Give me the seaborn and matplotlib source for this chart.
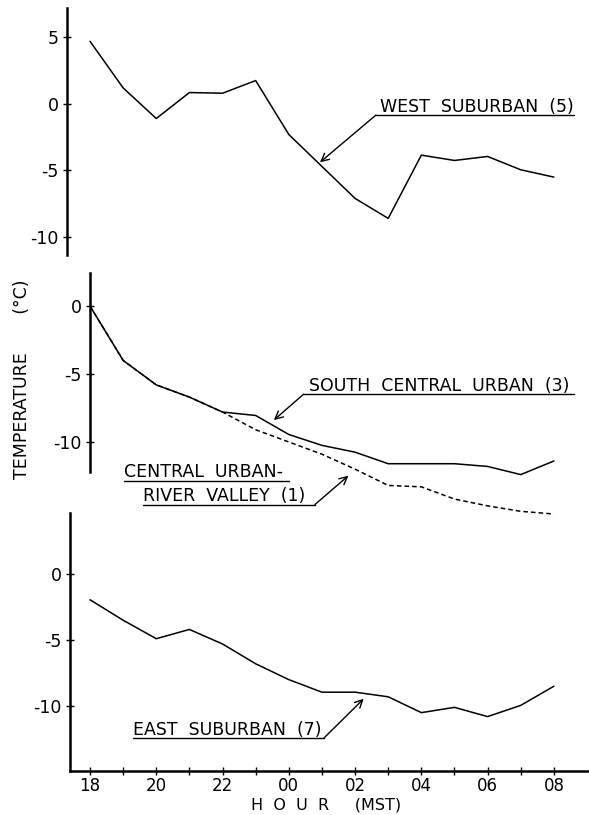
import numpy as np
import pandas as pd
import matplotlib
matplotlib.use('Agg')
import matplotlib.pyplot as plt
import seaborn as sns

# hour of day (MST), one point per hour
hours = ['18', '19', '20', '21', '22', '23', '00', '01', '02', '03', '04', '05', '06', '07', '08']
hour_idx = list(range(len(hours)))

# temperatures (deg C)
west_suburban = [4.7, 1.2, -1.1, 0.85, 0.8, 1.75, -2.3, -4.7, -7.1, -8.6, -3.85, -4.25, -3.95, -4.95, -5.5]
south_central_urban = [0.0, -4.0, -5.8, -6.7, -7.8, -8.05, -9.45, -10.25, -10.75, -11.6, -11.6, -11.6, -11.8, -12.4, -11.4]
central_river_valley = [0.0, -4.0, -5.8, -6.7, -7.8, -9.1, -10.0, -10.9, -12.0, -13.2, -13.3, -14.2, -14.7, -15.1, -15.3]
east_suburban = [-1.95, -3.5, -4.9, -4.2, -5.3, -6.8, -8.0, -8.95, -8.95, -9.3, -10.5, -10.1, -10.8, -9.95, -8.5]

df = pd.DataFrame({'hour': hour_idx, 'west': west_suburban, 'south': south_central_urban,
                   'river': central_river_valley, 'east': east_suburban})

sns.set_style('ticks')
plt.rcParams['font.family'] = ['DejaVu Sans']
plt.rcParams.update({'text.color': 'black', 'axes.labelcolor': 'black',
                     'xtick.color': 'black', 'ytick.color': 'black',
                     'axes.edgecolor': 'black'})

W, H = 589, 815
fig = plt.figure(figsize=(W / 100, H / 100), dpi=100)


def box(left, top, right, bottom):
    return [left / W, (H - bottom) / H, (right - left) / W, (bottom - top) / H]


ax1 = fig.add_axes(box(67, 8, 589, 255))
ax2 = fig.add_axes(box(67, 273, 589, 520))
ax3 = fig.add_axes(box(67, 513, 589, 771))

xlim = (-0.694, 15.06)
fs = 12.5
spine_w = 1.8
arrow = dict(arrowstyle='->', lw=1, color='black', shrinkA=0, shrinkB=0, mutation_scale=14)

sns.lineplot(data=df, x='hour', y='west', ax=ax1, color='black', lw=1.1)
sns.lineplot(data=df, x='hour', y='river', ax=ax2, color='black', lw=1.1)
ax2.lines[-1].set_linestyle((0, (3, 2)))
sns.lineplot(data=df, x='hour', y='south', ax=ax2, color='black', lw=1.1)
sns.lineplot(data=df, x='hour', y='east', ax=ax3, color='black', lw=1.1)

ax1.set_ylim(-11.35, 7.2)
ax2.set_ylim(-15.74, 2.43)
ax3.set_ylim(-14.92, 4.62)

for ax in (ax1, ax2, ax3):
    ax.set_facecolor('none')
    ax.set_xlim(*xlim)
    ax.set_xlabel('')
    ax.set_ylabel('')
    for s in ('top', 'right'):
        ax.spines[s].set_visible(False)
    ax.spines['left'].set_linewidth(spine_w)
    ax.tick_params(axis='y', direction='inout', length=6, width=1, labelsize=fs, pad=3)
    for ln in ax.lines:
        ln.set_clip_on(False)

for ax in (ax1, ax2):
    ax.spines['bottom'].set_visible(False)
    ax.set_xticks([])

ax1.set_yticks([-10, -5, 0, 5])
ax1.set_yticklabels(['-10', '-5', '0', '5'])
ax2.set_yticks([-10, -5, 0])
ax2.set_yticklabels(['-10', '-5', '0'])
ax2.spines['left'].set_position(('data', 0))
ax2.spines['left'].set_bounds(-12.2, 2.43)
ax3.set_yticks([-10, -5, 0])
ax3.set_yticklabels(['-10', '-5', '0'])
ax3.spines['left'].set_position(('data', -0.6))
ax3.spines['left'].set_bounds(-14.92, 4.62)
ax3.spines['bottom'].set_linewidth(spine_w)
ax3.spines['bottom'].set_bounds(-0.6, xlim[1])

ax3.set_xticks(hour_idx)
ax3.set_xticklabels([h if i % 2 == 0 else '' for i, h in enumerate(hours)])
ax3.tick_params(axis='x', direction='inout', length=6, width=1, labelsize=12, pad=1.5)

fig.text(326 / W, (H - 805.5) / H, 'H  O  U  R     (MST)', ha='center', va='center', fontsize=11.5)
fig.text(22 / W, (H - 379) / H, 'TEMPERATURE       (°C)', rotation=90,
         ha='center', va='center', fontsize=fs)

# top panel label
ax1.text(8.75, -0.6, 'WEST  SUBURBAN  (5)', fontsize=fs, va='baseline')
ax1.plot([8.63, 14.6], [-0.84, -0.84], color='black', lw=1, clip_on=False)
ax1.annotate('', xy=(6.94, -4.39), xytext=(8.63, -0.84), arrowprops=arrow, annotation_clip=False)

# middle panel labels
ax2.text(6.6, -6.25, 'SOUTH  CENTRAL  URBAN  (3)', fontsize=fs, va='baseline')
ax2.plot([6.45, 14.6], [-6.48, -6.48], color='black', lw=1, clip_on=False)
ax2.annotate('', xy=(5.55, -8.39), xytext=(6.45, -6.48), arrowprops=arrow, annotation_clip=False)
ax2.text(1.04, -12.6, 'CENTRAL  URBAN-', fontsize=fs, va='baseline')
ax2.plot([1.04, 6.0], [-12.85, -12.85], color='black', lw=1, clip_on=False)
ax2.text(1.6, -14.35, 'RIVER  VALLEY  (1)', fontsize=fs, va='baseline')
ax2.plot([1.6, 6.79], [-14.6, -14.6], color='black', lw=1, clip_on=False)
ax2.annotate('', xy=(7.8, -12.48), xytext=(6.79, -14.6), arrowprops=arrow, annotation_clip=False)

# bottom panel label
ax3.text(1.3, -12.2, 'EAST  SUBURBAN  (7)', fontsize=fs, va='baseline')
ax3.plot([1.3, 7.05], [-12.45, -12.45], color='black', lw=1, clip_on=False)
ax3.annotate('', xy=(8.26, -9.45), xytext=(7.05, -12.45), arrowprops=arrow, annotation_clip=False)

fig.savefig('out.png', dpi=100)
